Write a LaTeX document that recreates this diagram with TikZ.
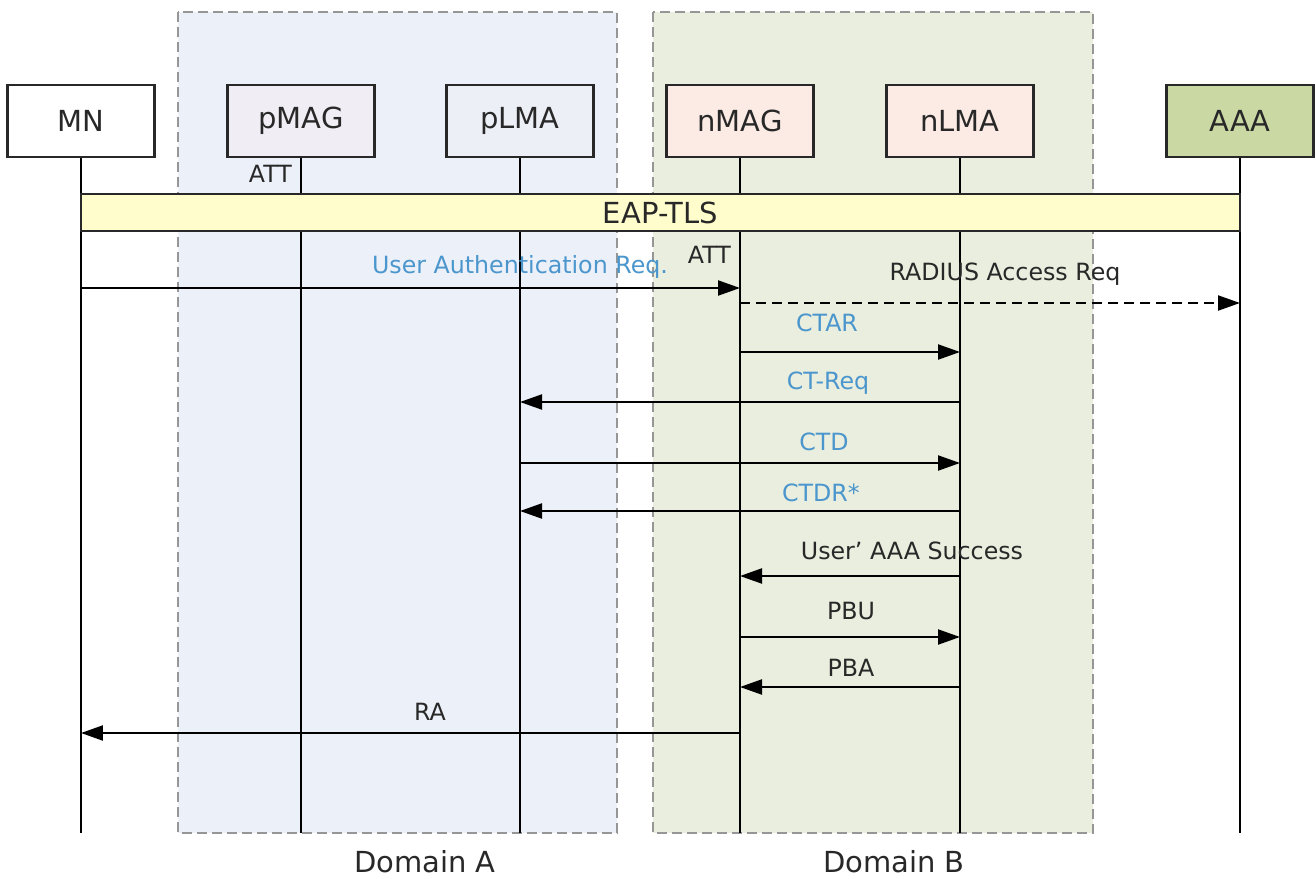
\documentclass[tikz,border=0pt]{standalone}
\usepackage{fontspec}
\setmainfont{DejaVu Sans}
\usepackage{tikz}
\usetikzlibrary{arrows.meta, positioning, calc}
\definecolor{mydark}{RGB}{40,40,40}
\definecolor{myblue}{RGB}{75,150,205}
\definecolor{myframe}{RGB}{150,150,150}
\definecolor{doma}{RGB}{236,240,248}
\definecolor{domb}{RGB}{234,238,222}
\definecolor{hdrgray}{RGB}{240,238,244}
\definecolor{hdrblue}{RGB}{236,240,246}
\definecolor{hdrpeach}{RGB}{252,235,228}
\definecolor{hdrolive}{RGB}{202,216,164}
\definecolor{hdryellow}{RGB}{255,253,204}
\tikzset{
  entity/.style={rectangle, draw=mydark, line width=1.4pt,
    minimum width=2.94cm, minimum height=1.44cm,
    font=\fontsize{16.5}{18}\selectfont, text=mydark},
  life/.style={line width=1.2pt, color=black},
  msg/.style={-{Triangle[length=0.44cm,width=0.3cm]}, line width=1.2pt, color=black},
  msgdash/.style={msg, dash pattern=on 0.2cm off 0.12cm},
  lbl/.style={font=\fontsize{13.5}{15}\selectfont, text=mydark, inner sep=1pt},
  bluelbl/.style={lbl, text=myblue},
  domlbl/.style={lbl, font=\fontsize{16.5}{18}\selectfont}
}
\begin{document}
\begin{tikzpicture}[x=0.02cm, y=-0.02cm,
  domainbox/.style={draw=myframe, line width=1.4pt, dash pattern=on 0.2cm off 0.1cm}]
  \useasboundingbox (0,0) rectangle (1316,879);

  % Domains
  \filldraw[domainbox, fill=doma] (178,12) rectangle (617,833);
  \filldraw[domainbox, fill=domb] (653,12) rectangle (1093,833);
  \node[domlbl] (doma) at (425,862) {Domain A};
  \node[domlbl] (domb) at (894,862) {Domain B};

  % Nodes
  \node[entity, fill=white] (mn) at (81,121) {MN};
  \node[entity, fill=hdrgray] (pmag) at (301,121) {pMAG};
  \node[entity, fill=hdrblue] (plma) at (520,121) {pLMA};
  \node[entity, fill=hdrpeach] (nmag) at (740,121) {nMAG};
  \node[entity, fill=hdrpeach] (nlma) at (960,121) {nLMA};
  \node[entity, fill=hdrolive] (aaa) at (1240,121) {AAA};

  % Lifelines
  \coordinate (bottom) at (0,833);
  \foreach \n in {mn, pmag, plma, nmag, nlma, aaa}
    \draw[life] (\n.south) -- (\n |- bottom);

  \node[entity, fill=hdryellow, minimum width=23.18cm, minimum height=0.74cm] (eap) at (660.5,212.5) {EAP-TLS};
  \node[lbl, anchor=east] (att1) at (294,174) {ATT};
  \node[lbl, anchor=east] (att2) at (733,255) {ATT};

  % Messages
  \coordinate (r1) at (0,288);
  \coordinate (r2) at (0,303);
  \coordinate (r3) at (0,352);
  \coordinate (r4) at (0,402);
  \coordinate (r5) at (0,463);
  \coordinate (r6) at (0,511);
  \coordinate (r7) at (0,576);
  \coordinate (r8) at (0,637);
  \coordinate (r9) at (0,687);
  \coordinate (r10) at (0,733);

  \draw[msg] (mn |- r1) -- (nmag |- r1);
  \node[bluelbl] (m1) at (520,267) {User Authentication Req.};
  \draw[msgdash] (nmag |- r2) -- (aaa |- r2);
  \node[lbl] (m2) at (1005,274) {RADIUS Access Req};
  \draw[msg] (nmag |- r3) -- (nlma |- r3);
  \node[bluelbl] (m3) at (827,323) {CTAR};
  \draw[msg] (nlma |- r4) -- (plma |- r4);
  \node[bluelbl] (m4) at (828,383) {CT-Req};
  \draw[msg] (plma |- r5) -- (nlma |- r5);
  \node[bluelbl] (m5) at (824,442) {CTD};
  \draw[msg] (nlma |- r6) -- (plma |- r6);
  \node[bluelbl] (m6) at (821,493) {CTDR*};
  \draw[msg] (nlma |- r7) -- (nmag |- r7);
  \node[lbl] (m7) at (912,551) {User' AAA Success};
  \draw[msg] (nmag |- r8) -- (nlma |- r8);
  \node[lbl] (m8) at (851,611) {PBU};
  \draw[msg] (nlma |- r9) -- (nmag |- r9);
  \node[lbl] (m9) at (851,668) {PBA};
  \draw[msg] (nmag |- r10) -- (mn |- r10);
  \node[lbl] (m10) at (430,712) {RA};

\end{tikzpicture}
\end{document}
